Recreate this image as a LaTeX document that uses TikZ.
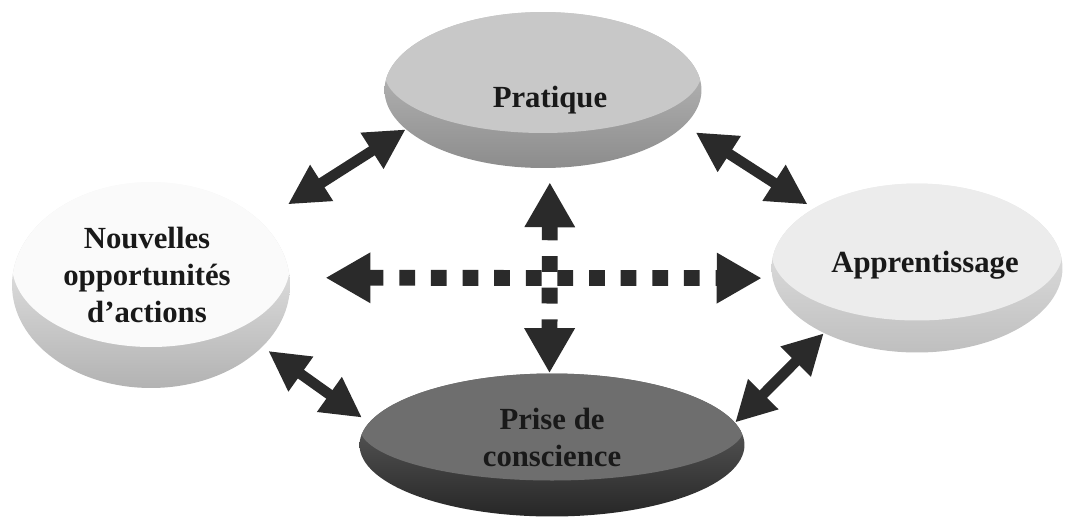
\documentclass[tikz,border=0pt]{standalone}
\usepackage{fontspec}
\setmainfont{Liberation Serif}
\usetikzlibrary{shapes.geometric,arrows.meta}

\definecolor{arrowc}{HTML}{2A2A2A}
\definecolor{faceP}{HTML}{C8C8C8}
\definecolor{faceN}{HTML}{FAFAFA}
\definecolor{faceA}{HTML}{ECECEC}
\definecolor{faceS}{HTML}{6E6E6E}

\begin{document}
\begin{tikzpicture}[x=0.02cm, y=-0.02cm,
    disk/.style n args={3}{ellipse, inner sep=0pt, minimum width=2*#1,
        path picture={\fill[#3] ([yshift=-#2]path picture bounding box.north)
            ellipse [x radius=#1, y radius=#2];}},
    txt/.style={font=\bfseries\fontsize{17.5}{21}\selectfont, align=center, text=black!90},
    link/.style={draw=arrowc, line width=6pt, >={Triangle[length=0.8cm,width=0.8cm]}, <->},
    dlink/.style={draw=arrowc, line width=9pt, dash pattern=on 9pt off 9pt,
        >={Triangle[length=0.9cm,width=0.95cm]}, <->}]

    % 画像の大きさ
    \useasboundingbox (0,0) rectangle (1067,518);

    % 4つの円盤
    \node[disk={3.17cm}{1.21cm}{faceP}, minimum height=3.12cm,
        top color=faceP, bottom color=black!45] (prat) at (543,90) {};
    \node[disk={2.78cm}{1.65cm}{faceN}, minimum height=4.12cm,
        top color=faceN, bottom color=black!30] (nouv) at (151,285) {};
    \node[disk={2.91cm}{1.37cm}{faceA}, minimum height=3.38cm,
        top color=faceA, bottom color=black!25] (appr) at (917,268) {};
    \node[disk={3.85cm}{1.07cm}{faceS}, minimum height=2.86cm,
        top color=faceS, bottom color=black!85] (prise) at (552,445) {};

    % ラベル
    \node[txt] (pratT) at ([xshift=0.14cm, yshift=-0.2cm]prat.center) {Pratique};
    \node[txt] (nouvT) at ([xshift=-0.08cm, yshift=0.2cm]nouv.center) {Nouvelles\\opportunités\\d’actions};
    \node[txt] (apprT) at ([xshift=0.16cm, yshift=0.06cm]appr.center) {Apprentissage};
    \node[txt] (priseT) at ([yshift=0.15cm]prise.center) {Prise de\\conscience};

    % 両方向の矢印
    \draw[link, shorten <=0.64cm] (nouv.30) -- (prat.196);
    \draw[link, shorten <=0.26cm, shorten >=0.14cm] (prat.346) -- (appr.150);
    \draw[link, shorten <=0.14cm, shorten >=0.17cm] (nouv.331) -- (prise.173);
    \draw[link] (appr.215) -- (prise.7);

    % 点線の矢印
    \draw[dlink, shorten <=0.71cm, shorten >=0.21cm] (nouv.3) -- (appr.184);
    \draw[dlink, shorten <=0.28cm] (prat.275) -- (prise.92);
    %
\end{tikzpicture}
\end{document}
